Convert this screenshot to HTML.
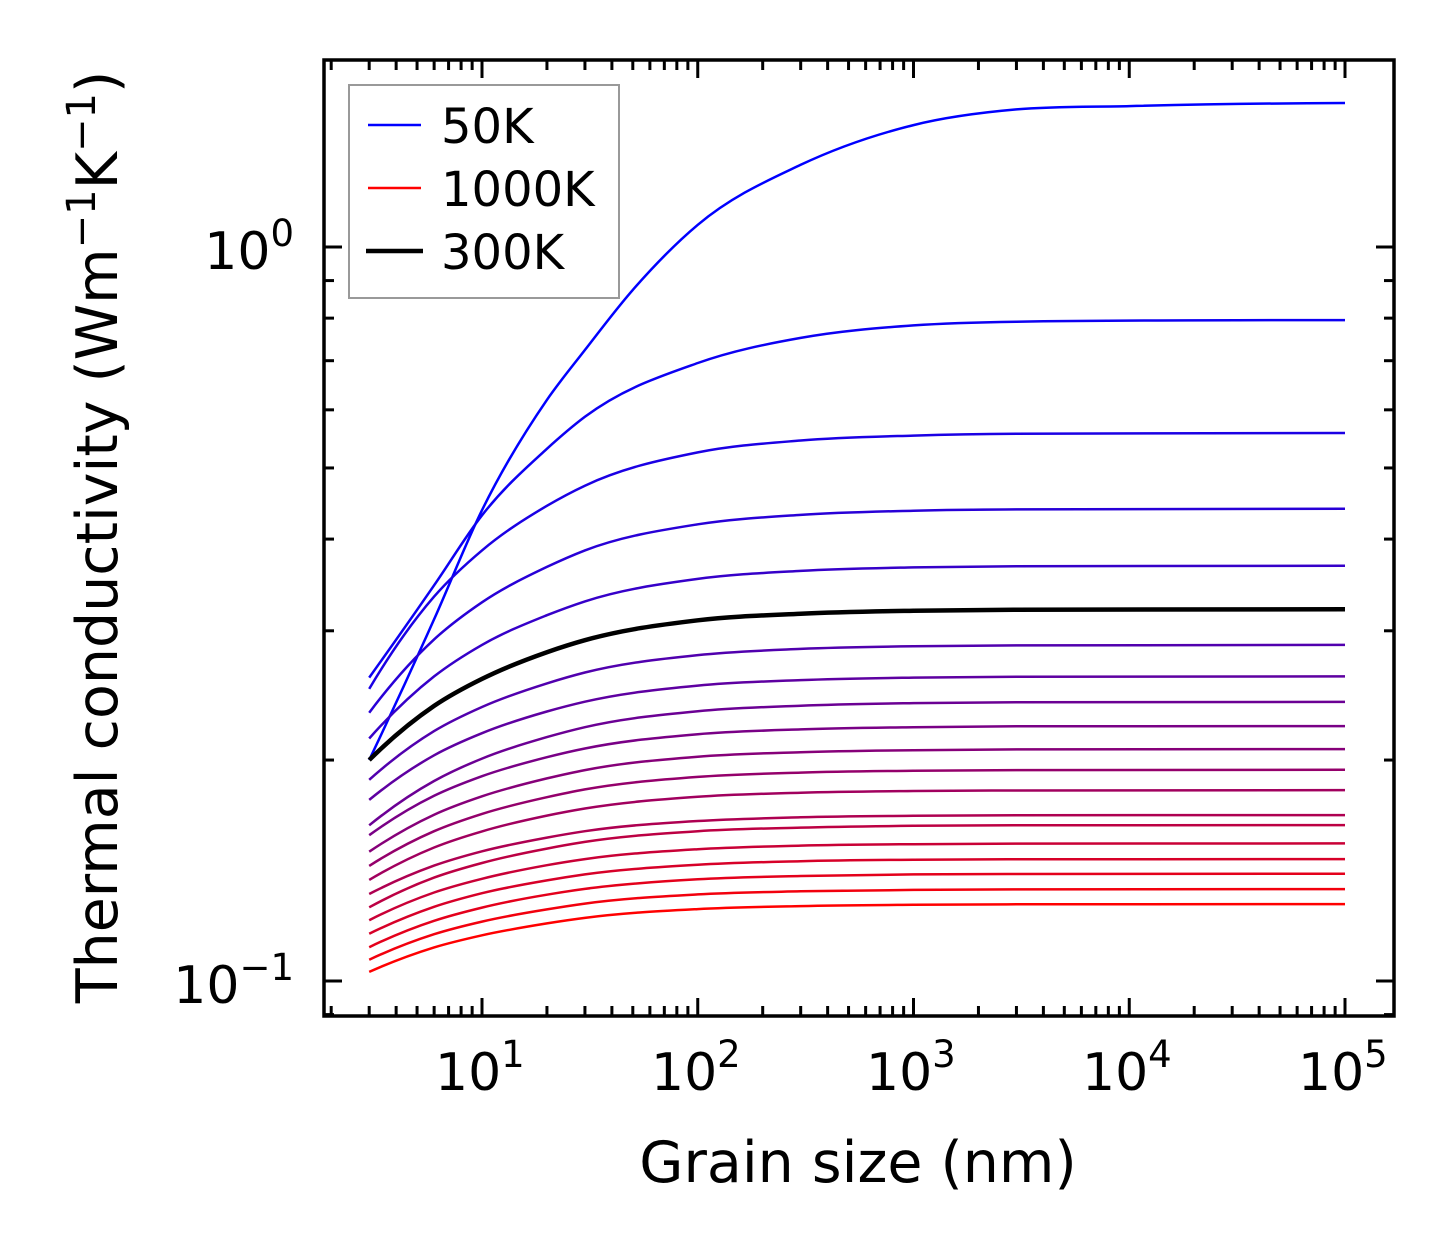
<!DOCTYPE html>
<html><head><meta charset="utf-8"><style>
html,body{margin:0;padding:0;background:#fff;}
svg{display:block;font-family:"DejaVu Sans","Liberation Sans",sans-serif;}
</style></head><body>
<svg id="chart" width="1454" height="1254" viewBox="0 0 1454 1254" xmlns="http://www.w3.org/2000/svg">
<rect width="1454" height="1254" fill="#fff"/>
<g id="curves"></g>
<g id="ticks"></g>
<rect x="324" y="60" width="1070" height="956" fill="none" stroke="#000" stroke-width="3.5"/>
<g font-size="52" fill="#000">
<text x="435" y="1090">10<tspan font-size="37" dy="-23">1</tspan></text>
<text x="651" y="1090">10<tspan font-size="37" dy="-23">2</tspan></text>
<text x="866" y="1090">10<tspan font-size="37" dy="-23">3</tspan></text>
<text x="1082" y="1090">10<tspan font-size="37" dy="-23">4</tspan></text>
<text x="1298" y="1090">10<tspan font-size="37" dy="-23">5</tspan></text>
</g>
<g font-size="52" text-anchor="end" fill="#000">
<text x="294" y="269">10<tspan font-size="37" dy="-23">0</tspan></text>
<text x="294" y="1003">10<tspan font-size="37" dy="-23">−1</tspan></text>
</g>
<text x="858" y="1182" font-size="57" text-anchor="middle">Grain size (nm)</text>
<text transform="translate(117,537) rotate(-90)" font-size="57" text-anchor="middle">Thermal conductivity (Wm<tspan font-size="40" dy="-22">−1</tspan><tspan dy="22">K</tspan><tspan font-size="40" dy="-22">−1</tspan><tspan dy="22">)</tspan></text>
<g>
<rect x="349" y="85" width="270" height="213" fill="#fff" stroke="#999" stroke-width="2"/>
<g><line x1="368" y1="125" x2="421" y2="125" stroke="#0000ff" stroke-width="2.5"/><text x="441" y="143" font-size="48">50K</text></g>
<g><line x1="368" y1="188" x2="421" y2="188" stroke="#ff0000" stroke-width="2.5"/><text x="441" y="206" font-size="48">1000K</text></g>
<g><line x1="366" y1="251" x2="423" y2="251" stroke="#000" stroke-width="4.5"/><text x="441" y="269" font-size="48">300K</text></g>
</g>
</svg>
<script>
const temps = [50,100,150,200,250,300,350,400,450,500,550,600,650,700,750,800,850,900,950,1000];
const sizes50 = [3,6,10,20,30,50,100,300,1000,3000,10000,100000];
const k50 = [0.200,0.311,0.438,0.619,0.724,0.874,1.072,1.294,1.466,1.540,1.556,1.571];
const sizes = [3,6,10,20,30,100,300,1000,3000,100000];
const k100 = [0.259,0.346,0.431,0.531,0.587,0.695,0.752,0.782,0.791,0.795];
const k150 = [0.250,0.334,0.386,0.444,0.473,0.525,0.545,0.5535,0.5567,0.558];
const k200 = [0.232,0.292,0.328,0.3666,0.386,0.419,0.4316,0.4372,0.4391,0.440];
const k250 = [0.214,0.260,0.287,0.315,0.329,0.353,0.362,0.366,0.3674,0.368];
const k300 = [0.200,0.237,0.258,0.2805,0.2913,0.310,0.3165,0.3195,0.3205,0.321];
const k350 = [0.188,0.219,0.2362,0.2544,0.2632,0.278,0.2834,0.2858,0.2866,0.287];
const k400 = [0.1765,0.203,0.2176,0.2329,0.2402,0.2526,0.257,0.259,0.2597,0.260];
const k450 = [0.163,0.1873,0.2009,0.2149,0.2217,0.2331,0.2372,0.2391,0.2397,0.240];
const k500 = [0.158,0.1788,0.1901,0.2018,0.2074,0.2169,0.2202,0.2217,0.2223,0.2225];
const k550 = [0.150,0.1685,0.1785,0.1888,0.1938,0.2021,0.205,0.2063,0.2068,0.207];
const k600 = [0.1435,0.160,0.1689,0.178,0.1824,0.1897,0.1923,0.1934,0.1938,0.194];
const k650 = [0.1373,0.152,0.1599,0.168,0.1718,0.1782,0.1805,0.1815,0.1818,0.182];
const k700 = [0.1314,0.1436,0.1502,0.1568,0.160,0.1652,0.1671,0.1679,0.1682,0.1683];
const k750 = [0.126,0.1383,0.1448,0.1515,0.1547,0.160,0.1618,0.1627,0.163,0.1631];
const k800 = [0.121,0.132,0.1378,0.1438,0.1466,0.1512,0.1529,0.1536,0.1539,0.154];
const k850 = [0.116,0.1262,0.1317,0.1371,0.1397,0.144,0.1456,0.1463,0.1465,0.1466];
const k900 = [0.1112,0.1208,0.1259,0.1311,0.1335,0.1376,0.139,0.1397,0.1399,0.140];
const k950 = [0.1069,0.1158,0.1205,0.1252,0.1275,0.1312,0.1325,0.1331,0.1333,0.1334];
const k1000 = [0.1029,0.1111,0.1154,0.1198,0.1219,0.1253,0.1265,0.127,0.1272,0.1273];
const series = [k50,k100,k150,k200,k250,k300,k350,k400,k450,k500,k550,k600,k650,k700,k750,k800,k850,k900,k950,k1000];

const NS = "http://www.w3.org/2000/svg";
function xs(v){ return 482 + (Math.log10(v) - 1) * 215.75; }
function ys(v){ return 247 - Math.log10(v) * 734; }

function smoothPath(px, py){
  const n = px.length, d = [], m = [];
  for (let i=0;i<n-1;i++) d.push((py[i+1]-py[i])/(px[i+1]-px[i]));
  for (let i=1;i<n-1;i++){
    const h0 = px[i]-px[i-1], h1 = px[i+1]-px[i];
    let t = (h1*d[i-1] + h0*d[i])/(h0+h1);
    if (d[i-1]*d[i] <= 0) t = 0;
    else {
      const lim = 3*Math.min(Math.abs(d[i-1]),Math.abs(d[i]));
      if (Math.abs(t) > lim) t = Math.sign(t)*lim;
    }
    m[i] = t;
  }
  m[0] = n > 2 ? 2*d[0] - m[1] : d[0];
  if (m[0]*d[0] < 0) m[0] = 0;
  m[n-1] = n > 2 ? 2*d[n-2] - m[n-2] : d[n-2];
  if (m[n-1]*d[n-2] < 0) m[n-1] = 0;
  let s = "M" + px[0].toFixed(1) + "," + py[0].toFixed(1);
  for (let i=0;i<n-1;i++){
    const h = px[i+1]-px[i];
    s += " C" + (px[i]+h/3).toFixed(1) + "," + (py[i]+m[i]*h/3).toFixed(1) + " " +
         (px[i+1]-h/3).toFixed(1) + "," + (py[i+1]-m[i+1]*h/3).toFixed(1) + " " +
         px[i+1].toFixed(1) + "," + py[i+1].toFixed(1);
  }
  return s;
}

const g = document.getElementById("curves");
const order = [];
for (let i=0;i<series.length;i++) if (temps[i] !== 300) order.push(i);
order.push(temps.indexOf(300));
order.forEach(i => {
  const sz = i === 0 ? sizes50 : sizes;
  const vals = series[i];
  const px = sz.map(xs), py = vals.map(ys);
  const p = document.createElementNS(NS, "path");
  p.setAttribute("d", smoothPath(px, py));
  const t = i / (series.length - 1);
  const col = temps[i] === 300 ? "#000" : "rgb(" + Math.round(255*t) + ",0," + Math.round(255*(1-t)) + ")";
  p.setAttribute("stroke", col);
  p.setAttribute("stroke-width", temps[i] === 300 ? "4.5" : "2.5");
  p.setAttribute("fill", "none");
  
  
  g.appendChild(p);
});

const tg = document.getElementById("ticks");
function tick(x1,y1,x2,y2){
  const l = document.createElementNS(NS, "line");
  l.setAttribute("x1",x1); l.setAttribute("y1",y1); l.setAttribute("x2",x2); l.setAttribute("y2",y2);
  l.setAttribute("stroke","#000"); l.setAttribute("stroke-width","3");
  
  
  tg.appendChild(l);
}
for (let e=0;e<=5;e++){
  for (let k=1;k<=9;k++){
    const v = k*Math.pow(10,e), x = xs(v);
    if (x < 325 || x > 1393) continue;
    const L = k===1 ? 18 : 10;
    tick(x,1016,x,1016-L); tick(x,60,x,60+L);
  }
}
for (let e=-2;e<=0;e++){
  for (let k=1;k<=9;k++){
    const v = k*Math.pow(10,e), y = ys(v);
    if (y < 61 || y > 1015) continue;
    const L = k===1 ? 18 : 10;
    tick(324,y,324+L,y); tick(1394,y,1394-L,y);
  }
}
</script>
</body></html>
